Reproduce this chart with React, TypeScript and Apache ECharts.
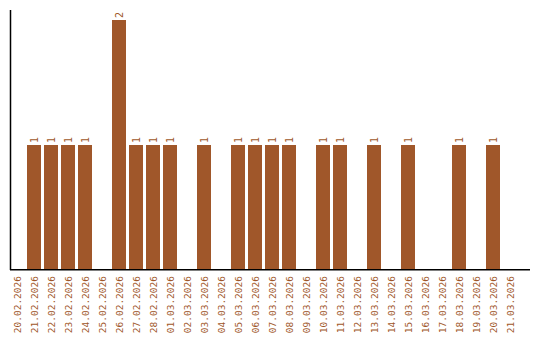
import React, { useEffect, useRef } from "react";
import * as echarts from "echarts";

const categories = [
  "20.02.2026", "21.02.2026", "22.02.2026", "23.02.2026", "24.02.2026",
  "25.02.2026", "26.02.2026", "27.02.2026", "28.02.2026", "01.03.2026",
  "02.03.2026", "03.03.2026", "04.03.2026", "05.03.2026", "06.03.2026",
  "07.03.2026", "08.03.2026", "09.03.2026", "10.03.2026", "11.03.2026",
  "12.03.2026", "13.03.2026", "14.03.2026", "15.03.2026", "16.03.2026",
  "17.03.2026", "18.03.2026", "19.03.2026", "20.03.2026", "21.03.2026",
];

const counts = [
  0, 1, 1, 1, 1,
  0, 2, 1, 1, 1,
  0, 1, 0, 1, 1,
  1, 1, 0, 1, 1,
  0, 1, 0, 1, 0,
  0, 1, 0, 1, 0,
];

const BROWN = "#A0572A";
const FONT = "DejaVu Sans Mono, Liberation Mono, monospace";

export default function App() {
  const ref = useRef<HTMLDivElement>(null);
  useEffect(() => {
    if (!ref.current) return;
    const chart = echarts.init(ref.current, undefined, { renderer: "svg" });
    chart.setOption({
      animation: false,
      backgroundColor: "#ffffff",
      grid: { left: 8.5, right: 21.5, top: 10, bottom: 70, containLabel: false },
      xAxis: {
        type: "category",
        data: categories,
        axisLine: { show: false },
        axisTick: { show: false },
        axisLabel: {
          rotate: 90,
          margin: 6,
          interval: 0,
          color: BROWN,
          fontSize: 9.5,
          fontFamily: FONT,
        },
        splitLine: { show: false },
      },
      yAxis: {
        type: "value",
        min: 0,
        max: 2.08,
        axisLine: { show: false },
        axisTick: { show: false },
        axisLabel: { show: false },
        splitLine: { show: false },
      },
      graphic: [
        {
          type: "line",
          shape: { x1: 10.5, y1: 10, x2: 10.5, y2: 270 },
          style: { stroke: "#000", lineWidth: 1.5 },
          silent: true,
          z: 10,
        },
        {
          type: "line",
          shape: { x1: 10, y1: 269.75, x2: 530, y2: 269.75 },
          style: { stroke: "#000", lineWidth: 1.5 },
          silent: true,
          z: 10,
        },
      ],
      series: [
        {
          type: "bar",
          data: counts.map((v) => (v === 0 ? null : v)),
          barWidth: 14,
          itemStyle: { color: BROWN },
          label: {
            show: true,
            position: "top",
            distance: 2,
            rotate: 90,
            align: "left",
            verticalAlign: "middle",
            color: BROWN,
            fontSize: 10,
            fontFamily: FONT,
          },
        },
      ],
    });
    return () => chart.dispose();
  }, []);
  return (
    <div style={{ position: "fixed", left: 0, top: 0, width: 540, height: 340, overflow: "hidden" }}>
      <div ref={ref} style={{ width: 540, height: 340 }} />
    </div>
  );
}
